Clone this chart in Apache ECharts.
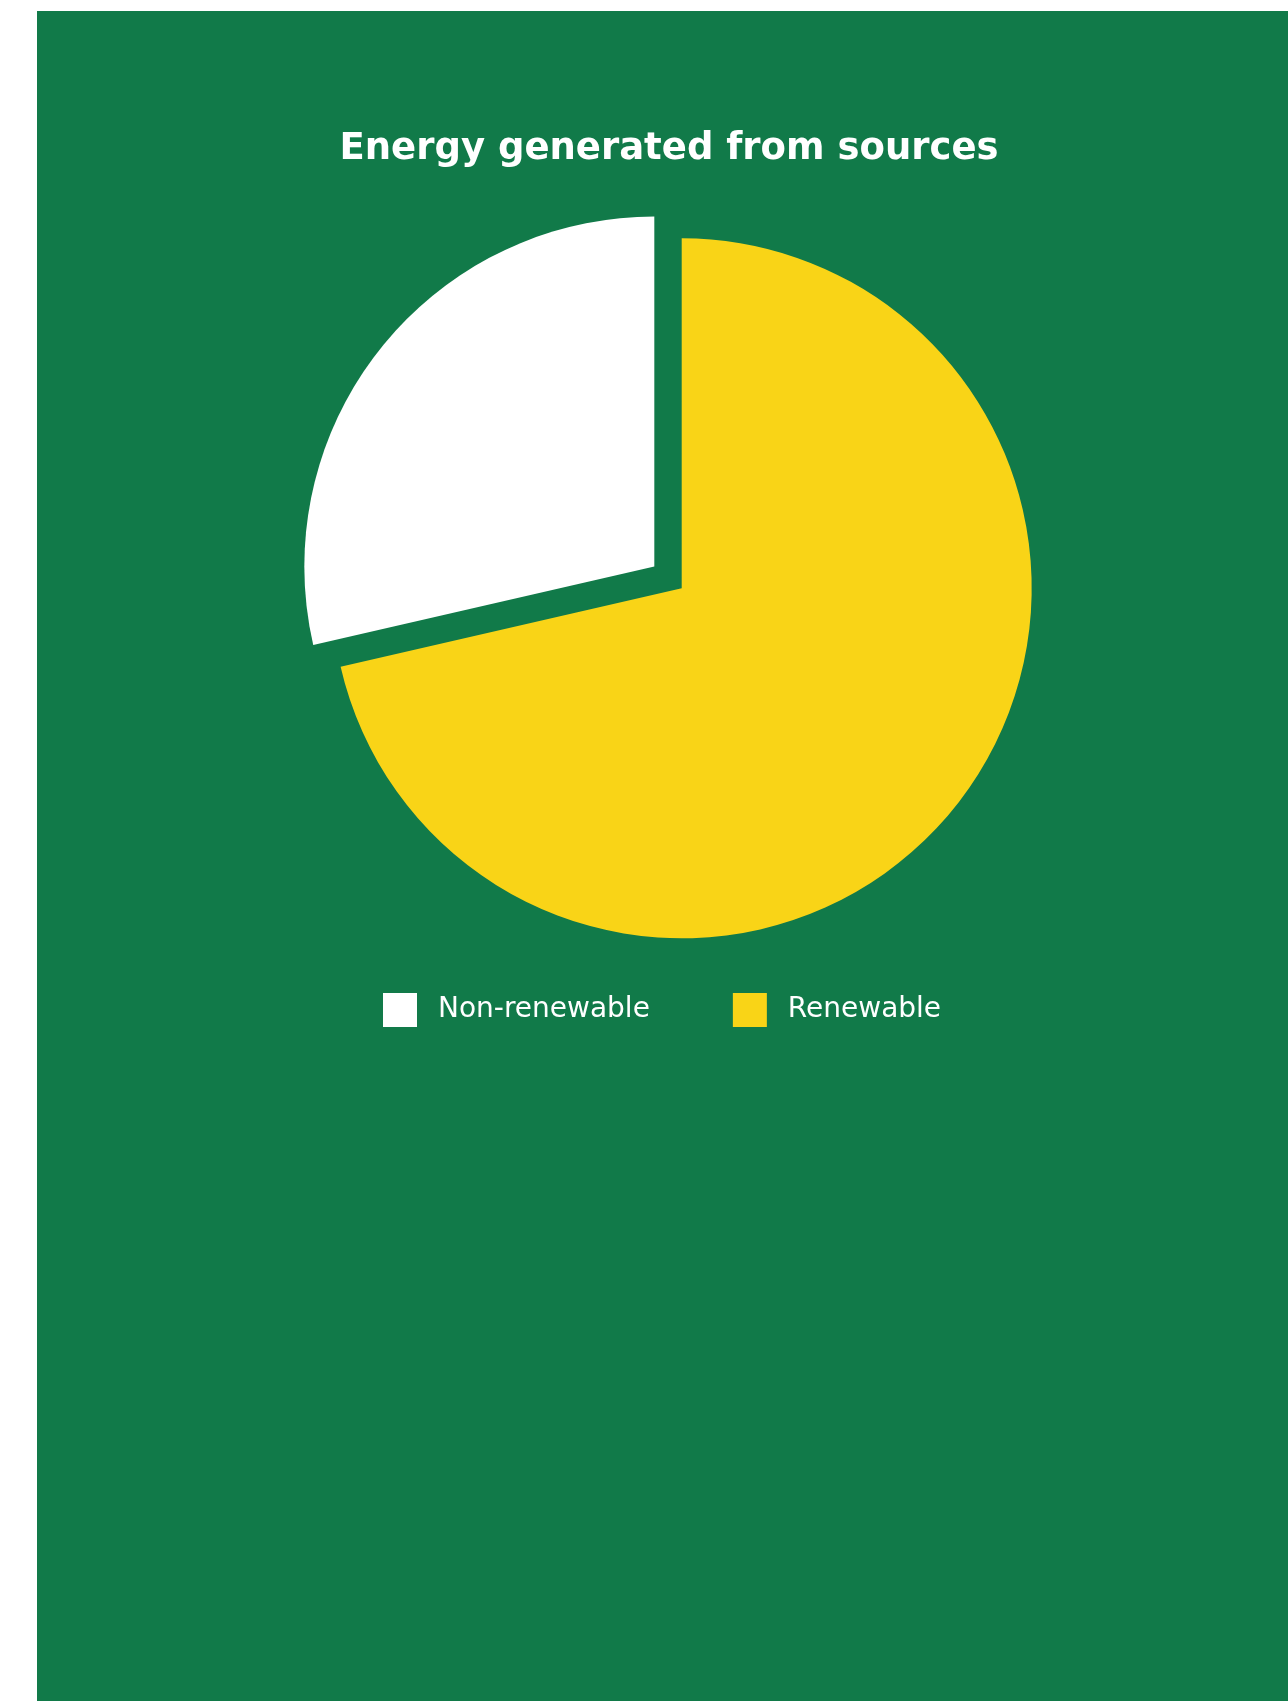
<!DOCTYPE html>
<html>
<head>
<meta charset="utf-8">
<script src="https://cdn.jsdelivr.net/npm/echarts@6/dist/echarts.min.js"></script>
<style>
  html, body { margin: 0; padding: 0; background: #ffffff; }
  #chart {
    position: absolute;
    left: 37px;
    top: 11px;
    width: 1251px;
    height: 1690px;
  }
</style>
</head>
<body>
<div id="chart"></div>
<script>
const categories = ['Non-renewable', 'Renewable'];
const shares = [28.6, 71.4];
const sliceColors = ['#ffffff', '#f9d417'];

const chart = echarts.init(document.getElementById('chart'), null, { renderer: 'canvas' });

chart.setOption({
  backgroundColor: '#117a49',
  animation: false,
  title: {
    text: 'Energy generated from sources',
    left: 627,
    top: 115,
    textAlign: 'center',
    textStyle: {
      color: '#ffffff',
      fontFamily: 'DejaVu Sans',
      fontWeight: 'bold',
      fontSize: 37
    }
  },
  legend: {
    data: categories,
    left: 341,
    top: 977,
    icon: 'rect',
    itemWidth: 34,
    itemHeight: 34,
    itemGap: 83,
    selectedMode: false,
    textStyle: {
      color: '#ffffff',
      fontFamily: 'DejaVu Sans',
      fontWeight: 500,
      fontSize: 28,
      padding: [0, 0, 0, 16]
    }
  },
  series: [
    {
      type: 'pie',
      center: [644.7, 577.3],
      radius: 350,
      startAngle: 90,
      clockwise: false,
      selectedMode: 'single',
      selectedOffset: 35,
      label: { show: false },
      labelLine: { show: false },
      emphasis: { disabled: true },
      data: categories.map((name, i) => ({
        name,
        value: shares[i],
        selected: i === 0,
        itemStyle: { color: sliceColors[i] }
      }))
    }
  ]
});
</script>
</body>
</html>
